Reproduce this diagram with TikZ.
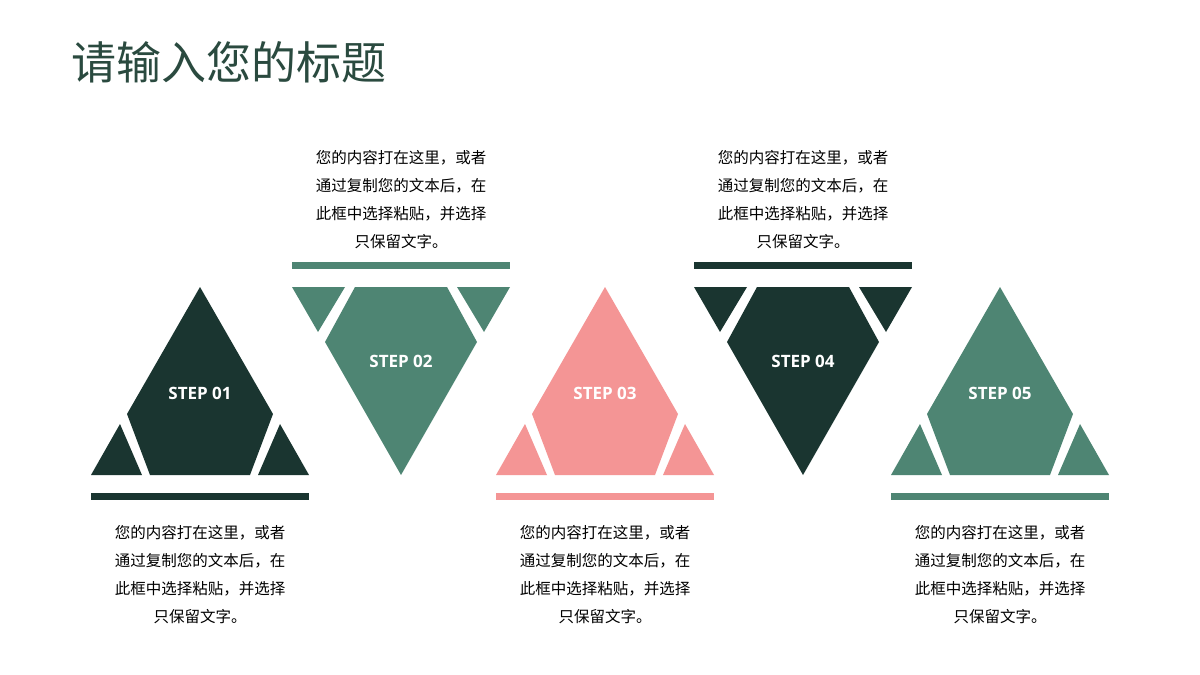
\documentclass[tikz,border=0pt]{standalone}
\usepackage{fontspec}
\setmainfont{Open Sans}
\newfontfamily\cjk{Noto Sans CJK SC}
\definecolor{cdark}{HTML}{1A3530}
\definecolor{cgreen}{HTML}{4E8573}
\definecolor{cpink}{HTML}{F49595}
\definecolor{ctitle}{HTML}{2A4A3F}
\tikzset{
  steplabel/.style={text=white,font=\fontsize{17}{20}\selectfont\bfseries},
  desc/.style={align=center,text=black,font=\cjk\fontsize{15.5}{28}\selectfont},
}
\newcommand{\upshp}[3]{%
  \fill[#2] (#1,287) -- (#1+73,414) -- (#1+50,475) -- (#1-50,475) -- (#1-73,414) -- cycle;
  \fill[#2] (#1-109,475) -- (#1-58,475) -- (#1-80,424) -- cycle;
  \fill[#2] (#1+109,475) -- (#1+58,475) -- (#1+80,424) -- cycle;
  \fill[#2] (#1-109,493) rectangle (#1+109,500);
  \node[steplabel] (s#3) at (#1,393) {STEP 0#3};
  \node[desc,anchor=north] (d#3) at (#1,522) {您的内容打在这里，或者\\通过复制您的文本后，在\\此框中选择粘贴，并选择\\只保留文字。};
}
\newcommand{\downshp}[3]{%
  \fill[#2] (#1-46,287) -- (#1+46,287) -- (#1+76,342) -- (#1,475) -- (#1-76,342) -- cycle;
  \fill[#2] (#1-109,287) -- (#1-56,287) -- (#1-83,332) -- cycle;
  \fill[#2] (#1+109,287) -- (#1+56,287) -- (#1+83,332) -- cycle;
  \fill[#2] (#1-109,262) rectangle (#1+109,269);
  \node[steplabel] (s#3) at (#1,361) {STEP 0#3};
  \node[desc,anchor=south] (d#3) at (#1,252) {您的内容打在这里，或者\\通过复制您的文本后，在\\此框中选择粘贴，并选择\\只保留文字。};
}
\begin{document}
\begin{tikzpicture}[x=1pt,y=-1pt]
\useasboundingbox (0,0) rectangle (1200,675);
\fill[white] (0,0) rectangle (1200,675);
\node[anchor=west,text=ctitle,font=\cjk\fontsize{45}{50}\selectfont] (title) at (68,62) {请输入您的标题};
\upshp{200}{cdark}{1}
\downshp{401}{cgreen}{2}
\upshp{605}{cpink}{3}
\downshp{803}{cdark}{4}
\upshp{1000}{cgreen}{5}
\end{tikzpicture}
\end{document}
